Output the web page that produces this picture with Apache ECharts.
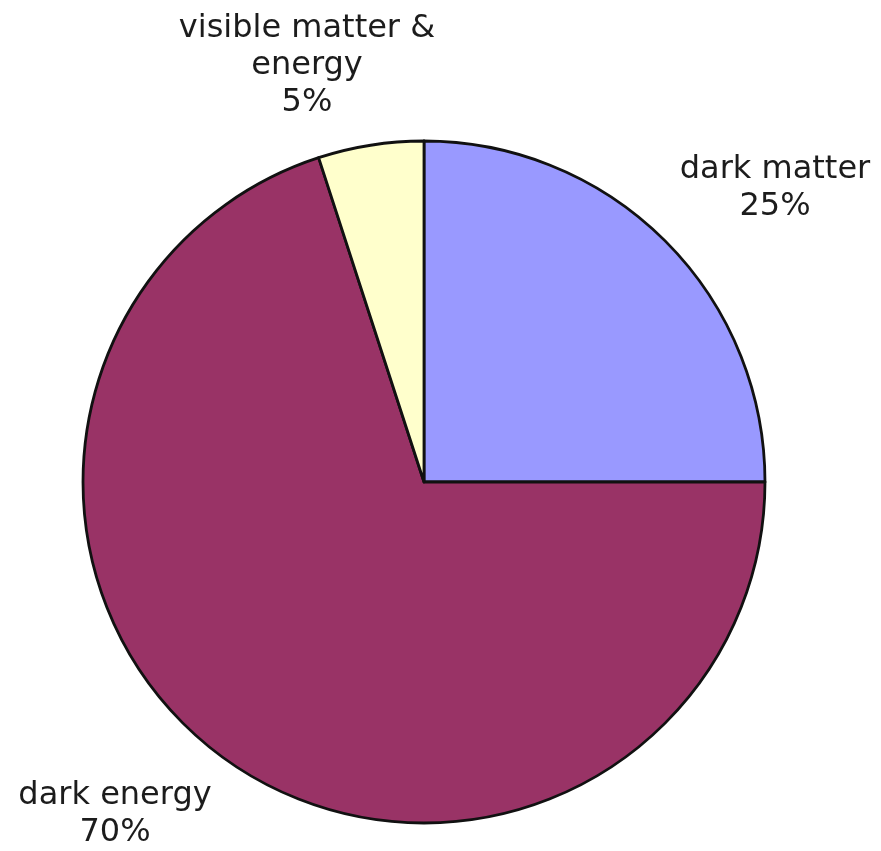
<!DOCTYPE html>
<html>
<head>
<meta charset="utf-8">
<script src="https://cdn.jsdelivr.net/npm/echarts@6/dist/echarts.min.js"></script>
<style>
  html, body { margin: 0; padding: 0; background: #ffffff; }
  #chart { width: 881px; height: 851px; }
</style>
</head>
<body>
<div id="chart"></div>
<script>
// Composition of the universe
const categories = ['dark matter', 'dark energy', 'visible matter &\nenergy'];
const shares = [25, 70, 5];
const sliceColors = ['#9999FF', '#993366', '#FFFFCC'];

// Label anchor points (centre of each text block)
const labelSpots = [
  { x: 775, y: 188 },
  { x: 115, y: 814 },
  { x: 307, y: 66 }
];

const chart = echarts.init(document.getElementById('chart'), null, { renderer: 'canvas' });

chart.setOption({
  backgroundColor: '#ffffff',
  animation: false,
  series: [{
    type: 'pie',
    center: [424, 482],
    radius: 341,
    startAngle: 90,
    clockwise: true,
    avoidLabelOverlap: false,
    data: categories.map((name, i) => ({
      name: name,
      value: shares[i],
      itemStyle: { color: sliceColors[i] }
    })),
    itemStyle: { borderColor: '#111111', borderWidth: 2.8 },
    label: {
      show: true,
      position: 'outside',
      formatter: '{b}\n{c}%',
      fontFamily: 'DejaVu Sans',
      fontSize: 32,
      lineHeight: 37,
      color: '#1c1c1c',
      align: 'center'
    },
    labelLine: { show: false },
    labelLayout: function (params) {
      const p = labelSpots[params.dataIndex];
      return { x: p.x, y: p.y, align: 'center', verticalAlign: 'middle' };
    },
    emphasis: { disabled: true }
  }]
});
</script>
</body>
</html>
